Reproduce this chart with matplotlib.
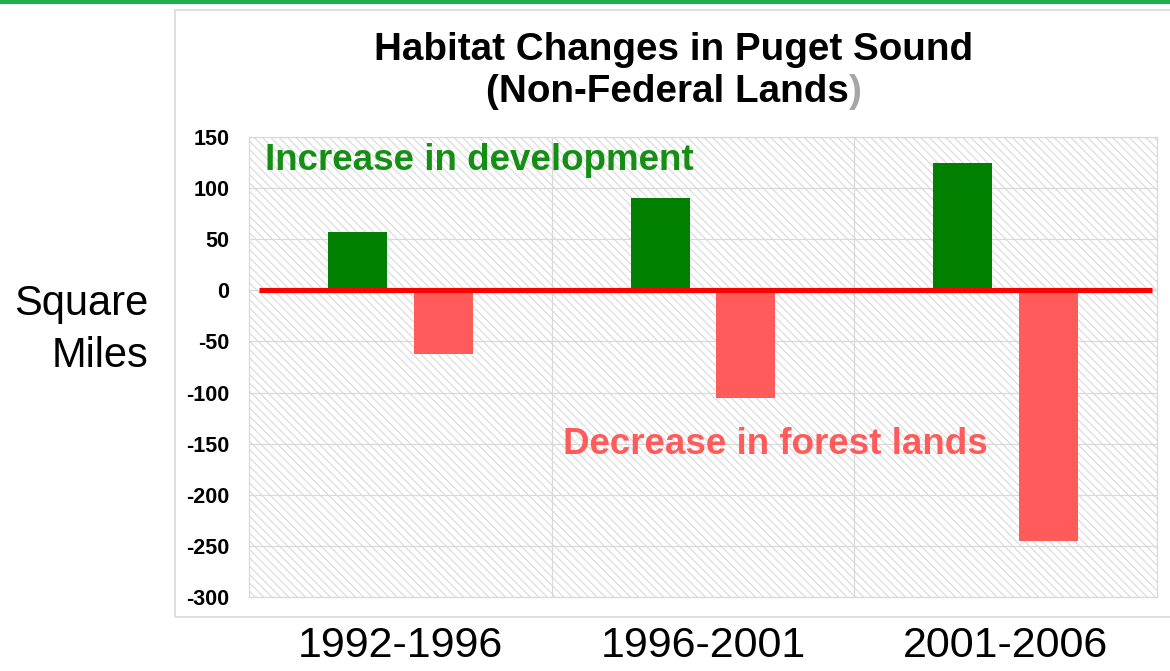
import matplotlib
matplotlib.use("Agg")
import matplotlib.pyplot as plt
from matplotlib.patches import Rectangle
from matplotlib.lines import Line2D

# ---- data ----
periods = ["1992-1996", "1996-2001", "2001-2006"]
development = [57, 90, 125]
forest = [-62, -105, -245]
yticks = [150, 100, 50, 0, -50, -100, -150, -200, -250, -300]

FONT = "Liberation Sans"
plt.rcParams["font.family"] = [FONT, "DejaVu Sans"]
plt.rcParams["hatch.linewidth"] = 0.8

W, H = 1170, 671
fig = plt.figure(figsize=(W / 100, H / 100), dpi=100)
fig.patch.set_facecolor("white")

# top green rule
fig.add_artist(Line2D([0, 1], [1 - 2 / H, 1 - 2 / H], transform=fig.transFigure,
                      color="#1fb04c", lw=3))
# chart frame
fig.add_artist(Rectangle((175 / W, 1 - 617 / H), 1.2, (617 - 10) / H,
                         transform=fig.transFigure, fill=False,
                         edgecolor="#d9d9d9", lw=1.2))

ax = fig.add_axes([249 / W, 1 - 597 / H, (1157 - 249) / W, (597 - 137) / H])
ax.set_xlim(-0.5, 2.5)
ax.set_ylim(-300, 150)

# hatched background
ax.add_patch(Rectangle((0, 0), 1, 1, transform=ax.transAxes, facecolor="white",
                       edgecolor="#d9d9d9", hatch="\\\\\\\\", lw=0, zorder=0))

# grid
for y in yticks:
    ax.axhline(y, color="#d9d9d9", lw=0.9, zorder=1)
for xb in [0.5, 1.5]:
    ax.axvline(xb, color="#d9d9d9", lw=0.9, zorder=1)

x = list(range(len(periods)))
bw = 0.195
off = 0.142
ax.bar([i - off for i in x], development, width=bw, color="#007f00", zorder=2)
ax.bar([i + off for i in x], forest, width=bw, color="#ff5b5b", zorder=2)

# zero line
ax.plot([-0.467, 2.483], [0, 0], color="#ff0000", lw=3.7, zorder=3,
        solid_capstyle="butt")

for s in ax.spines.values():
    s.set_color("#d9d9d9")
    s.set_linewidth(0.9)

ax.set_yticks(yticks)
ax.set_yticklabels([str(v) for v in yticks], fontsize=15.5, fontweight="bold")
ax.tick_params(axis="y", length=0, pad=14)
ax.set_xticks(x)
ax.set_xticklabels(periods, fontsize=31)
ax.tick_params(axis="x", length=0, pad=21)

# annotations
ax.text(-0.447, 127, "Increase in development", color="#148f14", fontsize=26.5,
        fontweight="bold", ha="left", va="center", zorder=4)
ax.text(0.537, -151, "Decrease in forest lands", color="#ff5b5b", fontsize=26.5,
        fontweight="bold", ha="left", va="center", zorder=4)

# y label
fig.text(148 / W, 1 - 315 / H, "Square", fontsize=30, ha="right", va="baseline")
fig.text(148 / W, 1 - 367 / H, "Miles", fontsize=30, ha="right", va="baseline")

# title
cx = 674 / W
TS = 27.8
fig.text(cx, 1 - 60 / H, "Habitat Changes in Puget Sound", fontsize=TS,
         fontweight="bold", ha="center", va="baseline")
renderer = fig.canvas.get_renderer()
full = fig.text(cx, 1 - 102 / H, "(Non-Federal Lands)", fontsize=TS,
                fontweight="bold", ha="center", va="baseline")
bb = full.get_window_extent(renderer)
full.remove()
left_px = bb.x0
t1 = fig.text(left_px / W, 1 - 102 / H, "(Non-Federal Lands", fontsize=TS,
              fontweight="bold", ha="left", va="baseline")
bb1 = t1.get_window_extent(renderer)
fig.text(bb1.x1 / W, 1 - 102 / H, ")", fontsize=TS, fontweight="bold",
         color="#a6a6a6", ha="left", va="baseline")

fig.savefig("out.png", dpi=100)
